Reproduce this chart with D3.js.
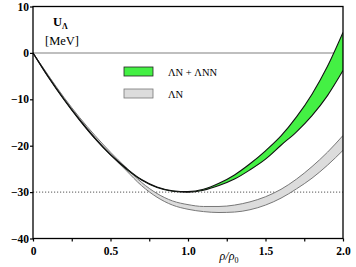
<!DOCTYPE html>
<html>
<head>
<meta charset="utf-8">
<script src="https://cdn.jsdelivr.net/npm/d3@7"></script>
<style>
  html, body { margin: 0; padding: 0; background: #fff; }
  svg text { font-family: "Liberation Serif", "DejaVu Serif", serif; }
</style>
</head>
<body>
<div id="chart"></div>
<script>
// density grid rho/rho0
const rho = [0, 0.1, 0.2, 0.3, 0.4, 0.5, 0.6, 0.7, 0.8, 0.9, 1.0,
             1.1, 1.2, 1.3, 1.4, 1.5, 1.6, 1.7, 1.8, 1.9, 2.0];

// Lambda N + Lambda NN band (MeV)
const lnnUpper = [0, -5.2, -10.0, -14.4, -18.4, -21.9, -24.8, -27.3, -28.9, -29.7, -29.9,
                  -29.4, -28.1, -26.3, -23.9, -21.1, -17.9, -13.8, -8.9, -2.9, 4.4];
const lnnLower = [0, -5.3, -10.1, -14.5, -18.5, -22.0, -25.0, -27.4, -29.0, -29.8, -30.0,
                  -29.6, -28.6, -27.2, -25.2, -22.9, -19.9, -17.0, -13.5, -9.2, -3.8];

// Lambda N only band (MeV)
const lnUpper = [0, -4.9, -9.6, -13.9, -17.8, -21.4, -24.7, -27.9, -30.3, -31.9, -32.7,
                 -33.1, -33.1, -32.8, -32.1, -31.0, -29.4, -27.2, -24.5, -21.4, -17.8];
const lnLower = [0, -5.0, -9.8, -14.2, -18.2, -21.9, -25.3, -28.6, -31.1, -32.8, -33.7,
                 -34.2, -34.4, -34.3, -33.8, -32.8, -31.3, -29.3, -27.0, -24.2, -21.0];

const xTicks = [0, 0.25, 0.5, 0.75, 1.0, 1.25, 1.5, 1.75, 2.0];
const xLabels = [0, 0.5, 1.0, 1.5, 2.0];
const yTicks = [10, 0, -10, -20, -30, -40];
const refLevel = -30;

const width = 356, height = 267;
const margin = { top: 6.5, right: 13, bottom: 28.5, left: 33 };

const svg = d3.select('#chart').append('svg')
  .attr('width', width)
  .attr('height', height);

const x = d3.scaleLinear().domain([0, 2]).range([margin.left, width - margin.right]);
const y = d3.scaleLinear().domain([-40, 10]).range([height - margin.bottom, margin.top]);

svg.append('clipPath').attr('id', 'plot-clip')
  .append('rect')
  .attr('x', x(0)).attr('y', y(10))
  .attr('width', x(2) - x(0)).attr('height', y(-40) - y(10));

// zero line and -30 reference
svg.append('line')
  .attr('x1', x(0)).attr('x2', x(2))
  .attr('y1', y(0)).attr('y2', y(0))
  .attr('stroke', '#aaa').attr('stroke-width', 1.5);

svg.append('line')
  .attr('x1', x(0)).attr('x2', x(2))
  .attr('y1', y(refLevel)).attr('y2', y(refLevel))
  .attr('stroke', '#555').attr('stroke-width', 1)
  .attr('stroke-dasharray', '1.2,1.8');

const plot = svg.append('g').attr('clip-path', 'url(#plot-clip)');

function drawBand(upper, lower, fill, edge, sw) {
  const pts = rho.map((r, i) => ({ r, u: upper[i], l: lower[i] }));
  const area = d3.area()
    .curve(d3.curveMonotoneX)
    .x(d => x(d.r))
    .y0(d => y(d.l))
    .y1(d => y(d.u));
  plot.append('path').datum(pts)
    .attr('d', area)
    .attr('fill', fill);
  [d => d.u, d => d.l].forEach(acc => {
    plot.append('path').datum(pts)
      .attr('d', d3.line().curve(d3.curveMonotoneX).x(d => x(d.r)).y(d => y(acc(d))))
      .attr('fill', 'none')
      .attr('stroke', edge)
      .attr('stroke-width', sw);
  });
}

drawBand(lnUpper, lnLower, '#dcdcdc', '#777', 1);
drawBand(lnnUpper, lnnLower, '#44f044', '#111', 1.1);

// frame
svg.append('rect')
  .attr('x', x(0)).attr('y', y(10))
  .attr('width', x(2) - x(0)).attr('height', y(-40) - y(10))
  .attr('fill', 'none').attr('stroke', '#000').attr('stroke-width', 1.3);

// axes
const xAxis = svg.append('g')
  .attr('transform', `translate(0,${y(-40)})`)
  .call(d3.axisBottom(x).tickValues(xTicks).tickSize(3).tickSizeOuter(0)
    .tickFormat(d => xLabels.includes(d) ? d3.format('.1f')(d).replace(/^0\.0$/, '0') : ''));
xAxis.select('.domain').remove();
xAxis.selectAll('line').attr('stroke-width', 1.2);
xAxis.selectAll('text')
  .attr('dy', '0.9em')
  .style('font-size', '11.5px').style('font-weight', 'bold').attr('fill', '#000');

const yAxis = svg.append('g')
  .attr('transform', `translate(${x(0)},0)`)
  .call(d3.axisLeft(y).tickValues(yTicks).tickSize(3).tickSizeOuter(0).tickFormat(d3.format('d')));
yAxis.select('.domain').remove();
yAxis.selectAll('line').attr('stroke-width', 1.2);
yAxis.selectAll('text')
  .attr('x', -4)
  .style('font-size', '11.5px').style('font-weight', 'bold').attr('fill', '#000');

// y label
const yl = svg.append('text').attr('x', 53).attr('y', 26)
  .style('font-size', '12.5px').style('font-weight', 'bold');
yl.append('tspan').text('U');
yl.append('tspan').attr('dy', 2.5).style('font-size', '8px').text('Λ');
svg.append('text').attr('x', 45).attr('y', 45)
  .style('font-size', '12.5px').text('[MeV]');

// x label
const xl = svg.append('text').attr('x', 229).attr('y', 260)
  .attr('text-anchor', 'middle').style('font-size', '12px');
xl.append('tspan').style('font-style', 'italic').text('ρ/ρ');
xl.append('tspan').attr('dy', 2.5).style('font-size', '8px').text('0');

// legend
const legend = [
  { label: 'ΛN + ΛNN', fill: '#44f044', edge: '#222', yy: 71.5 },
  { label: 'ΛN', fill: '#dcdcdc', edge: '#777', yy: 93.5 }
];
legend.forEach(d => {
  svg.append('rect')
    .attr('x', 124).attr('y', d.yy - 4.5)
    .attr('width', 29).attr('height', 9)
    .attr('fill', d.fill).attr('stroke', d.edge).attr('stroke-width', 0.8);
  svg.append('text')
    .attr('x', 168).attr('y', d.yy + 4)
    .style('font-size', '10.5px')
    .text(d.label);
});
</script>
</body>
</html>
